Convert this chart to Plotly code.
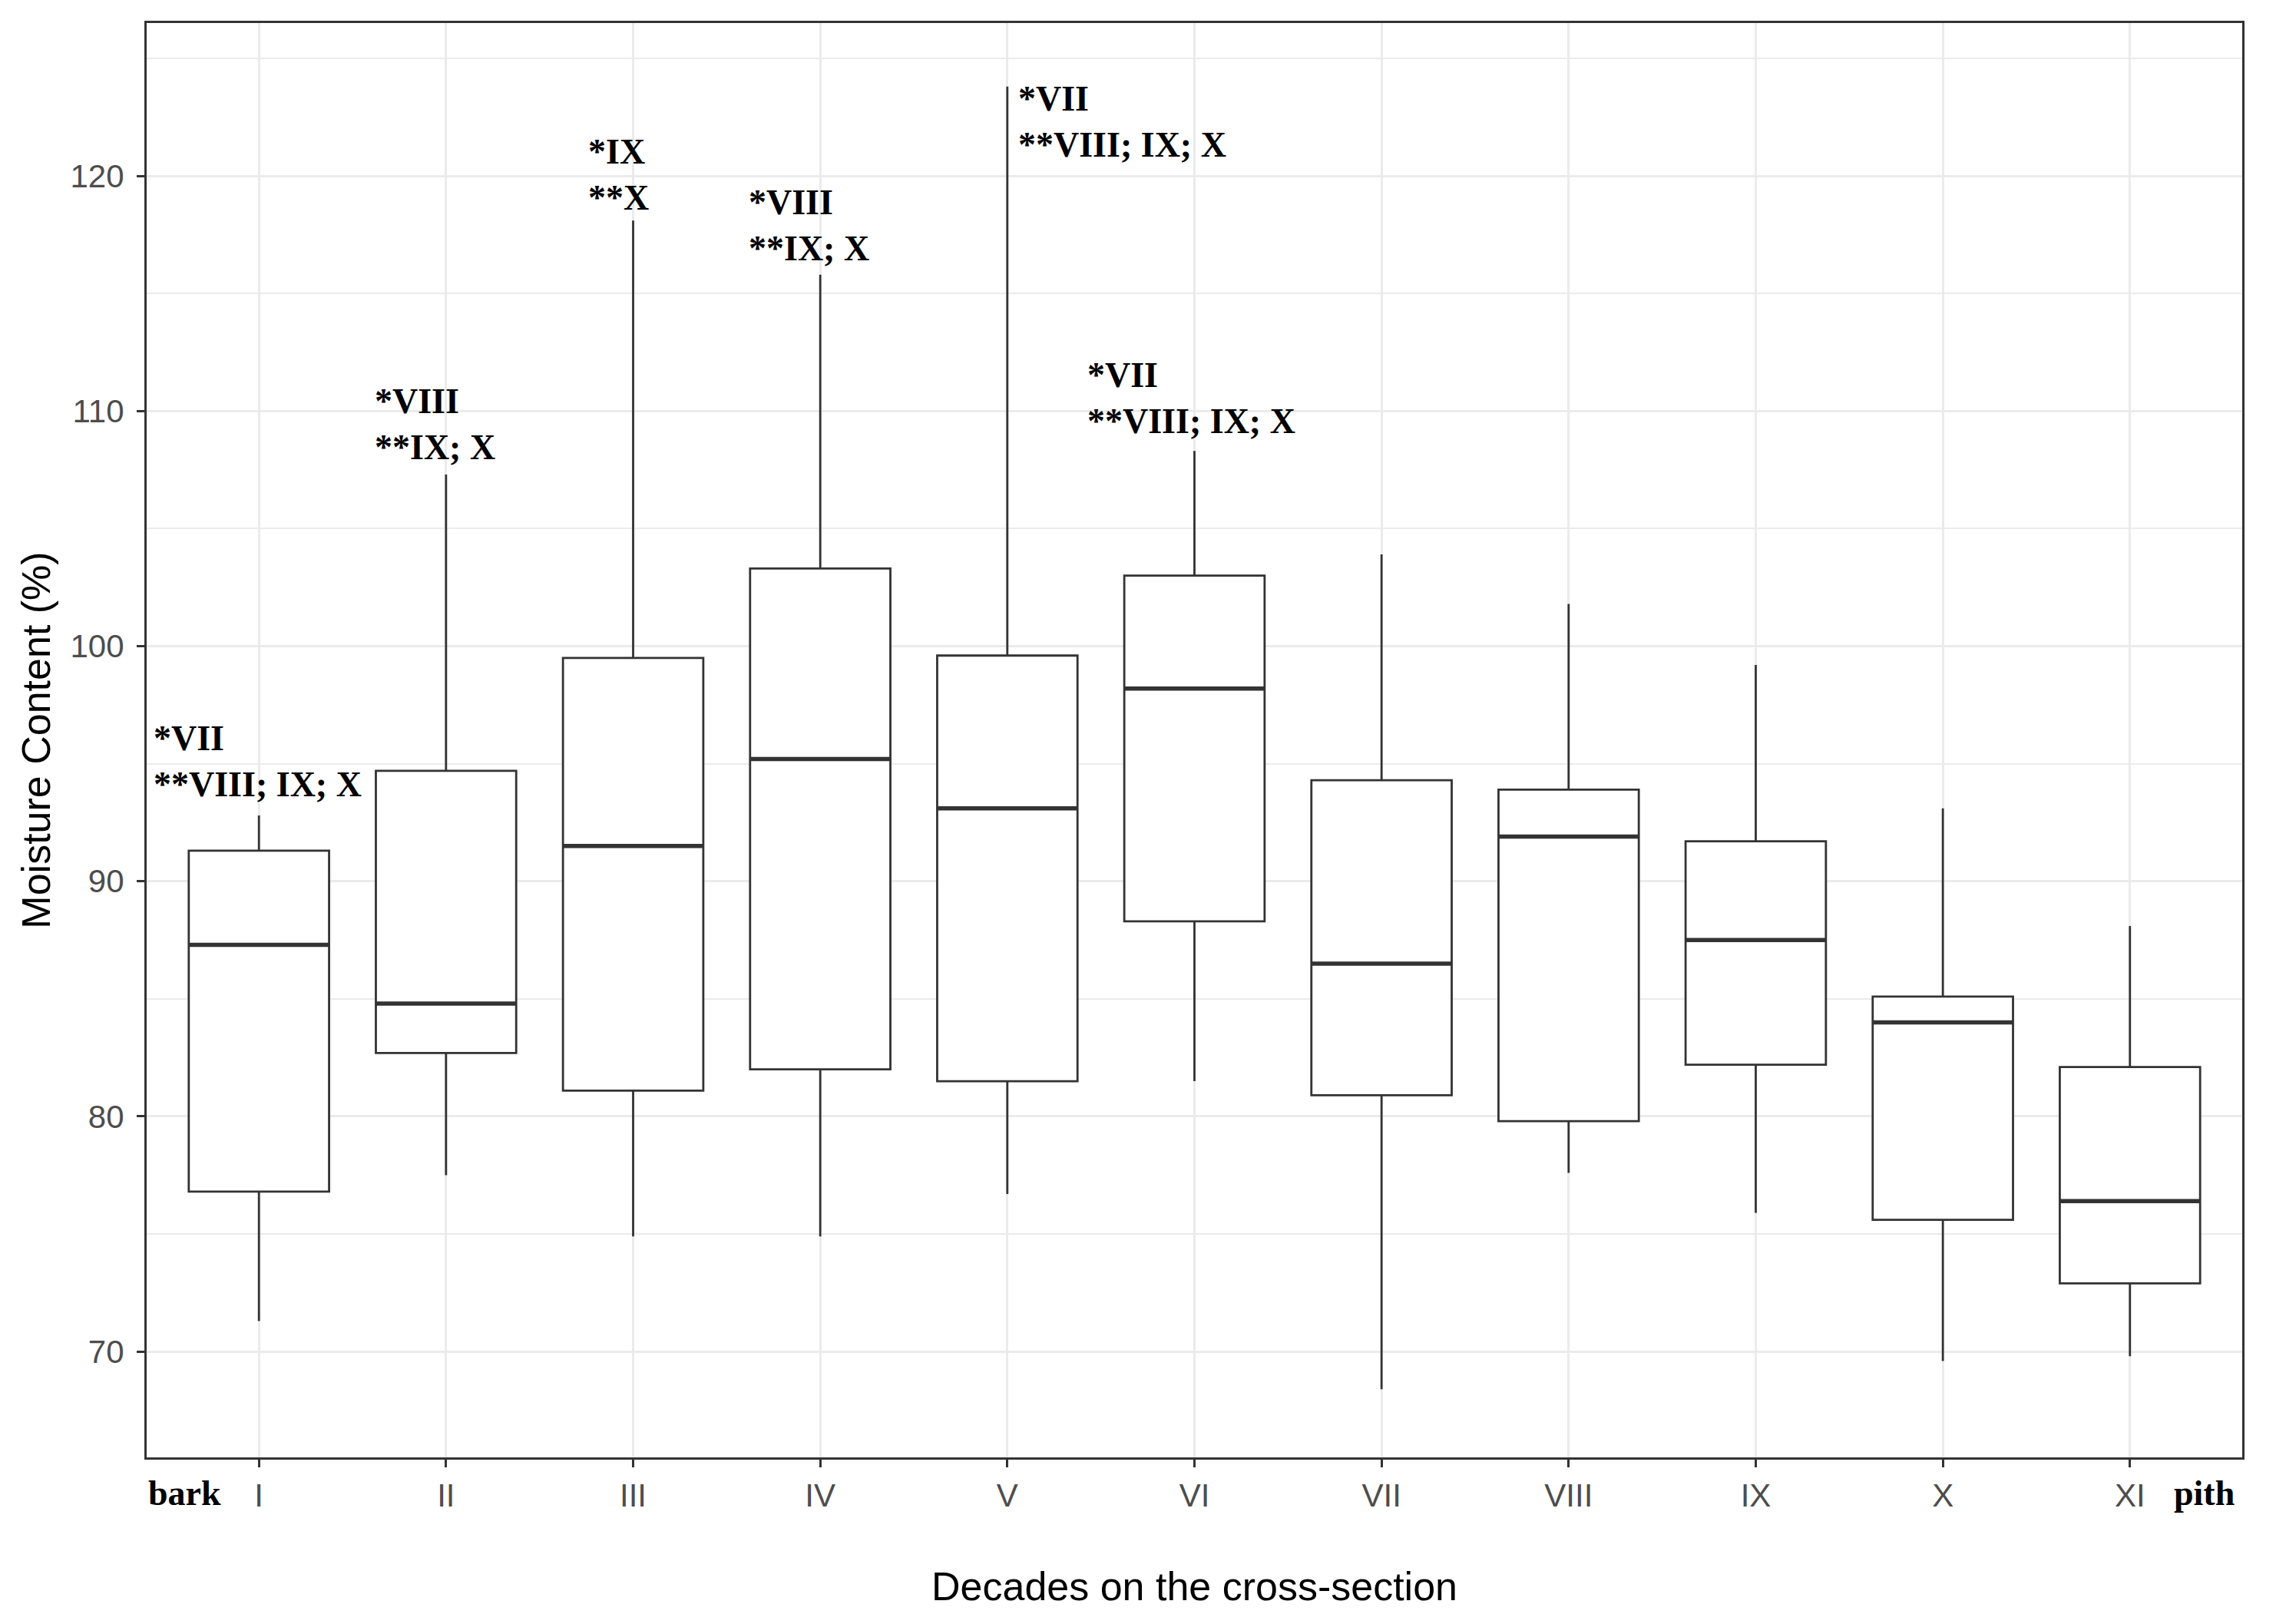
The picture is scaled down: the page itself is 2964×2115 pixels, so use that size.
import plotly.graph_objects as go

# ---- data ----
categories = ["I", "II", "III", "IV", "V", "VI", "VII", "VIII", "IX", "X", "XI"]
upper_whisker = [92.8, 107.3, 118.1, 115.8, 123.8, 108.3, 103.9, 101.8, 99.2, 93.1, 88.1]
q3 = [91.3, 94.7, 99.5, 103.3, 99.6, 103.0, 94.3, 93.9, 91.7, 85.1, 82.1]
median = [87.3, 84.8, 91.5, 95.2, 93.1, 98.2, 86.5, 91.9, 87.5, 84.0, 76.4]
q1 = [76.8, 82.7, 81.1, 82.0, 81.5, 88.3, 80.9, 79.8, 82.2, 75.6, 72.9]
lower_whisker = [71.3, 77.5, 74.9, 74.9, 76.7, 81.5, 68.4, 77.6, 75.9, 69.6, 69.8]

sig_labels = ["*VII<br>**VIII; IX; X", "*VIII<br>**IX; X", "*IX<br>**X",
              "*VIII<br>**IX; X", "*VII<br>**VIII; IX; X", "*VII<br>**VIII; IX; X"]
sig_x = [0.43, 1.61, 2.75, 3.61, 5.05, 5.42]
sig_y = [95.1, 109.45, 120.06, 117.9, 122.3, 110.55]

y_ticks = [70, 80, 90, 100, 110, 120]

# ---- styling ----
LINE = "#333333"
GRID = "#EBEBEB"
TICKTXT = "#4D4D4D"
SANS = "Liberation Sans, Arial, sans-serif"
SERIF = "Liberation Serif, Times New Roman, serif"
BOX_W = 0.75

xs = list(range(1, len(categories) + 1))

fig = go.Figure()
fig.add_trace(go.Box(
    x=xs, q1=q1, median=median, q3=q3,
    lowerfence=lower_whisker, upperfence=upper_whisker,
    width=BOX_W, whiskerwidth=0,
    fillcolor="white", line=dict(color=LINE, width=2.8),
    boxpoints=False, showlegend=False, hoverinfo="skip",
))

# thicker median segments (ggplot style)
mx, my = [], []
for xi, m in zip(xs, median):
    mx += [xi - BOX_W / 2, xi + BOX_W / 2, None]
    my += [m, m, None]
fig.add_trace(go.Scatter(x=mx, y=my, mode="lines",
                         line=dict(color=LINE, width=5.5),
                         showlegend=False, hoverinfo="skip"))

for t, ax_, ay_ in zip(sig_labels, sig_x, sig_y):
    fig.add_annotation(x=ax_, y=ay_, text=t, showarrow=False,
                       xanchor="left", yanchor="middle", align="left",
                       font=dict(family=SERIF, size=46, color="black", weight="bold"))

fig.add_annotation(xref="paper", yref="paper", x=0, y=-0.025, text="bark",
                   showarrow=False, xanchor="left", yanchor="middle",
                   font=dict(family=SERIF, size=46, color="black", weight="bold"))
fig.add_annotation(xref="paper", yref="paper", x=0.997, y=-0.025, text="pith",
                   showarrow=False, xanchor="right", yanchor="middle",
                   font=dict(family=SERIF, size=46, color="black", weight="bold"))

fig.update_layout(
    width=2964, height=2115,
    margin=dict(l=183, r=52, t=22, b=225),
    paper_bgcolor="white", plot_bgcolor="white",
    showlegend=False,
)
fig.update_xaxes(
    range=[0.4, 11.6], tickmode="array", tickvals=xs, ticktext=categories,
    showgrid=True, gridcolor=GRID, gridwidth=3, zeroline=False,
    showline=True, linecolor=LINE, linewidth=3.2, mirror=True,
    ticks="outside", ticklen=10, tickwidth=3, tickcolor=LINE,
    tickfont=dict(family=SANS, size=42, color=TICKTXT),
    title=dict(text="Decades on the cross-section", standoff=79,
               font=dict(family=SANS, size=52, color="black")),
)
fig.update_yaxes(
    range=[65.5, 126.5], tickmode="array", tickvals=y_ticks,
    showgrid=True, gridcolor=GRID, gridwidth=3, zeroline=False,
    showline=True, linecolor=LINE, linewidth=3.2, mirror=True,
    ticks="outside", ticklen=10, tickwidth=3, tickcolor=LINE,
    ticklabelstandoff=8,
    tickfont=dict(family=SANS, size=42, color=TICKTXT),
    minor=dict(dtick=5, tick0=65, showgrid=True, gridcolor=GRID, gridwidth=1.6, ticks=""),
    title=dict(text="Moisture Content (%)", standoff=10,
               font=dict(family=SANS, size=52, color="black")),
)

fig.write_html("out.html")
